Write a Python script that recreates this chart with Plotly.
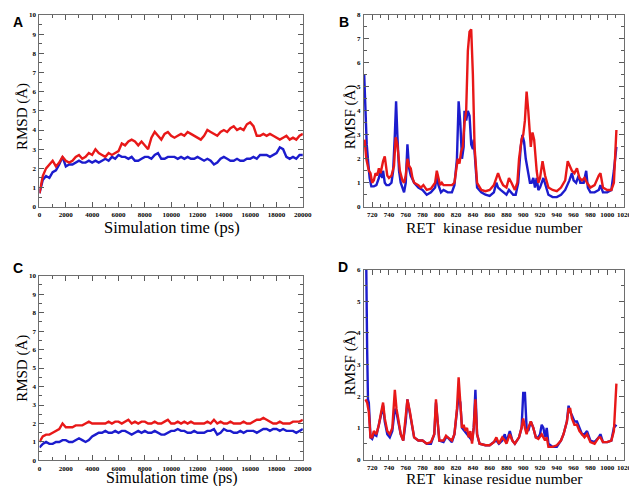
import plotly.graph_objects as go

# ---------------- Data ----------------
time_ps = list(range(0, 20001, 250))

rmsd_A_red = [0.7, 1.6, 2.0, 2.2, 2.4, 2.1, 2.3, 2.6, 2.4, 2.3, 2.4, 2.6, 2.7, 2.5, 2.6, 2.8, 2.7, 3.0, 2.8, 2.7,
              2.6, 2.8, 2.7, 2.8, 2.9, 3.3, 3.2, 3.4, 3.5, 3.4, 3.2, 3.4, 3.2, 3.0, 3.6, 3.9, 3.7, 3.5, 3.8, 3.9,
              3.7, 3.6, 3.7, 3.8, 3.7, 3.9, 3.8, 3.7, 3.6, 3.5, 3.7, 4.0, 3.9, 3.8, 3.7, 3.9, 4.0, 3.9, 4.1, 4.2,
              4.0, 4.1, 4.0, 4.3, 4.4, 4.2, 3.7, 3.7, 3.8, 3.7, 3.8, 3.7, 3.6, 3.5, 3.6, 3.7, 3.5, 3.6, 3.5, 3.7, 3.8]
rmsd_A_blue = [0.7, 1.4, 1.6, 1.5, 1.8, 1.9, 2.2, 2.6, 2.1, 2.2, 2.2, 2.3, 2.4, 2.3, 2.3, 2.4, 2.3, 2.4, 2.3, 2.4,
               2.5, 2.4, 2.6, 2.5, 2.7, 2.6, 2.6, 2.5, 2.6, 2.4, 2.4, 2.5, 2.6, 2.6, 2.5, 2.7, 2.8, 2.5, 2.5, 2.6,
               2.6, 2.6, 2.5, 2.6, 2.5, 2.6, 2.5, 2.5, 2.6, 2.5, 2.4, 2.5, 2.4, 2.2, 2.3, 2.5, 2.6, 2.5, 2.4, 2.4,
               2.5, 2.4, 2.4, 2.5, 2.5, 2.6, 2.5, 2.7, 2.7, 2.7, 2.6, 2.7, 2.8, 3.1, 3.0, 2.6, 2.5, 2.6, 2.5, 2.7, 2.7]

rmsd_C_red = [1.0, 1.3, 1.4, 1.4, 1.5, 1.6, 1.7, 2.0, 1.8, 1.8, 1.8, 1.9, 1.9, 1.9, 2.0, 2.1, 2.0, 2.0, 2.0, 2.0,
              2.0, 2.1, 2.0, 2.1, 2.1, 2.0, 2.1, 2.2, 2.0, 2.1, 2.0, 2.1, 2.1, 2.0, 2.0, 2.1, 2.0, 2.0, 2.1, 2.2,
              2.0, 2.0, 2.1, 2.0, 2.1, 2.0, 2.1, 2.0, 2.0, 2.0, 2.0, 2.1, 2.0, 2.2, 2.0, 2.1, 2.0, 2.0, 2.1, 2.0,
              2.0, 2.0, 2.1, 2.0, 2.0, 2.1, 2.2, 2.2, 2.3, 2.2, 2.1, 2.0, 2.0, 2.1, 2.0, 2.0, 2.0, 2.1, 2.1, 2.1, 2.2]
rmsd_C_blue = [0.7, 0.9, 1.0, 0.9, 0.9, 1.0, 1.0, 1.1, 1.1, 1.0, 1.0, 1.1, 1.2, 1.1, 1.0, 1.1, 1.3, 1.4, 1.5, 1.5,
               1.6, 1.5, 1.5, 1.6, 1.5, 1.6, 1.6, 1.5, 1.4, 1.5, 1.6, 1.5, 1.6, 1.5, 1.5, 1.6, 1.5, 1.4, 1.4, 1.5,
               1.6, 1.6, 1.7, 1.6, 1.6, 1.5, 1.5, 1.6, 1.5, 1.5, 1.5, 1.6, 1.6, 1.7, 1.4, 1.5, 1.7, 1.6, 1.6, 1.5,
               1.5, 1.6, 1.5, 1.6, 1.6, 1.6, 1.5, 1.6, 1.7, 1.7, 1.6, 1.7, 1.7, 1.6, 1.7, 1.6, 1.6, 1.6, 1.5, 1.6, 1.7]

res_B_blue = [710.5, 713.5, 715.4, 717, 719, 722, 725, 728, 730, 732, 733, 735, 737, 740, 743, 745, 747, 748.5, 750,
              752, 754, 757, 758, 760, 762, 764, 766, 770, 775, 780, 785, 790, 795, 797, 799, 802, 805, 810, 815,
              818, 821, 823, 825, 827, 829, 830, 832, 834, 836, 838, 840, 841, 843, 845, 850, 855, 860, 865, 868,
              870, 873, 876, 880, 883, 885, 888, 891, 894, 897, 899, 901, 903, 906, 908, 910, 912, 914, 916, 918,
              920, 924, 927, 930, 935, 940, 945, 950, 955, 958, 960, 963, 966, 968, 972, 975, 977, 980, 985, 990,
              992, 995, 1000, 1005, 1008, 1011]
rmsf_B_blue = [5.5, 2.6, 1.8, 1.2, 0.85, 0.85, 0.9, 1.2, 1.5, 1.2, 1.5, 1.0, 0.9, 0.9, 1.0, 1.5, 3.0, 4.4, 3.0,
               1.5, 1.0, 0.7, 0.6, 1.0, 2.6, 1.6, 1.3, 1.0, 0.8, 0.7, 0.5, 0.6, 0.8, 1.3, 0.9, 0.6, 0.7, 0.6, 0.6,
               0.9, 2.0, 4.4, 3.5, 2.0, 2.5, 4.0, 3.6, 4.0, 3.8, 2.6, 2.4, 2.8, 1.6, 0.8, 0.6, 0.5, 0.45, 0.6, 1.0,
               0.8, 0.7, 0.6, 0.5, 0.7, 0.6, 0.5, 0.5, 1.0, 2.5, 3.0, 2.7, 2.0, 1.4, 1.0, 1.0, 1.2, 0.8, 1.2, 0.7,
               0.8, 1.2, 0.8, 0.5, 0.4, 0.4, 0.5, 0.7, 1.1, 1.4, 1.1, 1.0, 1.3, 1.0, 1.0, 1.5, 0.8, 0.6, 0.6, 0.7,
               0.9, 0.6, 0.6, 0.7, 1.5, 2.5]

res_B_red = [711, 713, 716, 718, 720, 722, 724, 726, 728, 730, 733, 735, 738, 740, 743, 746, 748, 750, 753, 756,
             758, 760, 762, 764, 766, 768, 770, 775, 778, 781, 785, 790, 795, 797, 799, 801, 803, 805, 810, 815,
             818, 820, 822, 824, 826, 828, 830, 832, 834, 836, 838, 840, 842, 845, 850, 855, 860, 865, 868, 870,
             873, 876, 880, 883, 886, 890, 893, 895, 898, 900, 902, 904, 906, 908, 909, 911, 913, 916, 918, 920,
             923, 926, 928, 930, 935, 940, 945, 950, 953, 956, 958, 961, 964, 967, 970, 973, 976, 980, 985, 990,
             992, 995, 1000, 1005, 1008, 1011]
rmsf_B_red = [2.8, 2.0, 1.5, 1.4, 1.0, 1.1, 1.4, 1.3, 1.6, 1.4, 1.9, 2.1, 1.3, 1.2, 1.3, 1.7, 2.9, 2.6, 1.5, 1.1,
              1.0, 1.3, 2.0, 1.7, 1.6, 1.2, 1.0, 0.9, 0.8, 0.9, 0.7, 0.75, 1.0, 1.5, 1.2, 0.9, 1.0, 0.9, 0.9, 0.9,
              1.0, 1.6, 2.0, 1.8, 2.3, 2.5, 3.5, 4.0, 6.5, 7.3, 7.4, 5.5, 2.5, 1.0, 0.7, 0.65, 0.7, 0.9, 1.2, 1.4,
              1.1, 0.9, 0.8, 1.2, 1.0, 0.7, 1.0, 2.0, 2.8, 3.0, 3.6, 4.8, 4.0, 3.0, 2.5, 3.1, 2.8, 1.5, 1.0, 1.2,
              1.9, 1.3, 1.0, 0.8, 0.7, 0.65, 0.8, 1.1, 1.9, 1.7, 1.5, 1.4, 1.6, 1.2, 1.1, 1.2, 1.0, 0.8, 0.9, 1.3,
              1.4, 0.8, 0.7, 0.7, 1.0, 3.2]

res_D_blue = [712, 713, 714, 715, 716, 718, 720, 722, 725, 728, 730, 733, 735, 738, 741, 744, 747, 749, 751, 754,
              757, 760, 762, 765, 767, 770, 775, 780, 785, 790, 794, 796, 798, 800, 805, 808, 810, 815, 818, 821,
              823, 825, 827, 830, 833, 836, 839, 841, 843, 845, 848, 855, 860, 865, 868, 871, 875, 878, 880, 884,
              887, 890, 895, 898, 900, 902, 904, 906, 909, 912, 915, 918, 920, 922, 924, 926, 928, 930, 935, 940,
              945, 948, 952, 954, 956, 958, 961, 964, 967, 970, 973, 976, 980, 985, 990, 992, 995, 1000, 1005, 1008,
              1011]
rmsf_D_blue = [6.0, 6.0, 3.5, 1.9, 1.8, 0.7, 0.65, 0.8, 0.75, 1.1, 1.3, 1.7, 1.2, 0.8, 0.7, 0.9, 1.6, 1.5, 1.2, 0.8,
               0.6, 1.2, 1.9, 1.4, 1.2, 0.7, 0.6, 0.6, 0.5, 0.5, 0.8, 1.8, 1.2, 0.6, 0.55, 0.7, 0.7, 0.55, 0.8, 1.5,
               2.0, 1.8, 1.0, 0.9, 0.8, 0.7, 0.6, 1.0, 2.2, 0.8, 0.5, 0.45, 0.45, 0.55, 0.6, 0.5, 0.6, 0.8, 0.55, 0.9,
               0.6, 0.5, 0.7, 1.0, 2.1, 2.1, 1.0, 0.9, 1.2, 1.0, 0.7, 0.7, 0.8, 1.1, 1.0, 0.7, 1.0, 0.5, 0.4, 0.4,
               0.6, 0.8, 1.2, 1.7, 1.5, 1.4, 1.2, 1.2, 1.0, 0.8, 0.8, 0.9, 0.6, 0.55, 0.7, 0.8, 0.55, 0.55, 0.6, 1.0,
               1.1]

res_D_red = [712, 714, 716, 718, 720, 722, 725, 728, 730, 733, 735, 738, 741, 744, 747, 749, 751, 754, 757, 760,
             762, 765, 767, 770, 775, 780, 785, 790, 794, 796, 798, 800, 805, 808, 810, 815, 818, 821, 823, 825,
             827, 829, 831, 833, 835, 837, 839, 841, 843, 845, 848, 855, 860, 865, 868, 871, 875, 878, 880, 884,
             887, 890, 895, 898, 900, 902, 904, 906, 909, 912, 915, 918, 920, 922, 924, 926, 928, 930, 935, 940,
             945, 948, 952, 954, 956, 958, 961, 964, 967, 970, 973, 976, 980, 985, 990, 992, 995, 1000, 1005, 1008,
             1011]
rmsf_D_red = [1.9, 1.8, 1.5, 0.7, 0.7, 0.9, 0.8, 1.1, 1.4, 1.8, 1.3, 0.9, 0.8, 1.0, 2.2, 1.6, 1.3, 0.8, 0.6, 1.3,
              1.9, 1.5, 1.2, 0.7, 0.6, 0.6, 0.5, 0.55, 0.8, 1.9, 1.2, 0.6, 0.6, 0.75, 0.7, 0.6, 0.8, 1.6, 2.6, 1.8,
              1.0, 1.1, 0.9, 1.0, 0.7, 0.9, 0.5, 1.0, 1.9, 0.8, 0.5, 0.45, 0.45, 0.55, 0.7, 0.5, 0.7, 0.6, 0.5, 0.8,
              0.6, 0.5, 0.7, 1.0, 1.3, 1.0, 0.8, 1.0, 1.2, 1.0, 0.7, 0.65, 0.75, 0.8, 0.7, 0.6, 0.7, 0.4, 0.4, 0.45,
              0.6, 0.8, 1.2, 1.6, 1.6, 1.3, 1.1, 1.1, 0.9, 0.8, 0.7, 0.8, 0.55, 0.5, 0.7, 0.7, 0.55, 0.55, 0.6, 0.9,
              2.4]

panel_letters = ["A", "B", "C", "D"]
x_titles = ["Simulation time (ps)", "RET&nbsp; kinase residue number",
            "Simulation time (ps)", "RET&nbsp; kinase residue number"]
y_titles = ["RMSD (Å)", "RMSF (Å)", "RMSD (Å)", "RMSF (Å)"]

# ---------------- Styling ----------------
RED = "rgb(232,24,24)"
BLUE = "rgb(28,28,205)"
W, H = 637, 486
SERIF = "Liberation Serif"


def px_x(a, b):
    return [a / W, b / W]


def px_y(top, bottom):
    return [1 - bottom / H, 1 - top / H]


fig = go.Figure()

series = [
    ("x", "y", time_ps, rmsd_A_blue, BLUE), ("x", "y", time_ps, rmsd_A_red, RED),
    ("x2", "y2", res_B_blue, rmsf_B_blue, BLUE), ("x2", "y2", res_B_red, rmsf_B_red, RED),
    ("x3", "y3", time_ps, rmsd_C_blue, BLUE), ("x3", "y3", time_ps, rmsd_C_red, RED),
    ("x4", "y4", res_D_blue, rmsf_D_blue, BLUE), ("x4", "y4", res_D_red, rmsf_D_red, RED),
]
for xa, ya, xs, ys, col in series:
    fig.add_trace(go.Scatter(x=xs, y=ys, mode="lines", xaxis=xa, yaxis=ya,
                             line=dict(color=col, width=2.4), showlegend=False, hoverinfo="skip"))

axis_common = dict(showline=True, linecolor="rgb(110,110,110)", linewidth=1, mirror="allticks",
                   ticks="inside", ticklen=5, tickwidth=1, tickcolor="rgb(90,90,90)",
                   showgrid=False, zeroline=False, tickangle=0, ticklabelstandoff=1,
                   ticklabeloverflow="allow",
                   tickfont=dict(family=SERIF, size=7, color="black", weight="bold"))
minor_common = dict(ticks="inside", ticklen=3, tickwidth=1, tickcolor="rgb(90,90,90)", showgrid=False)

layout = dict(width=W, height=H, margin=dict(l=0, r=0, t=0, b=0),
              paper_bgcolor="white", plot_bgcolor="white")

# panel geometry in pixels
geo = {
    "1": (30, 298, 3, 198), "2": (360, 625, 3, 198),
    "3": (30, 298, 268, 456), "4": (360, 625, 262, 455),
}
xcfg = {
    "1": dict(range=[0, 20000], dtick=2000, tickformat="d", minor=dict(dtick=1000, **minor_common)),
    "2": dict(range=[710, 1020.3], tick0=720, dtick=20, tickformat="d", minor=dict(tick0=710, dtick=10, **minor_common)),
    "3": dict(range=[0, 20000], dtick=2000, tickformat="d", minor=dict(dtick=1000, **minor_common)),
    "4": dict(range=[710, 1020.3], tick0=720, dtick=20, tickformat="d", minor=dict(tick0=710, dtick=10, **minor_common)),
}
ycfg = {
    "1": dict(range=[0, 10], dtick=1),
    "2": dict(range=[0, 8], dtick=1),
    "3": dict(range=[0, 10], dtick=1),
    "4": dict(range=[0, 6], dtick=1),
}
for k in ["1", "2", "3", "4"]:
    l, r, t, b = geo[k]
    xk = "xaxis" if k == "1" else f"xaxis{k}"
    yk = "yaxis" if k == "1" else f"yaxis{k}"
    anchor_x = "y" if k == "1" else f"y{k}"
    anchor_y = "x" if k == "1" else f"x{k}"
    layout[xk] = dict(domain=px_x(l, r), anchor=anchor_x, **xcfg[k], **axis_common)
    layout[yk] = dict(domain=px_y(t, b), anchor=anchor_y, **ycfg[k], **axis_common,
                      minor=dict(dtick=0.5, **minor_common))

fig.update_layout(**layout)

# axis titles (pixel positions): (centre x, y, anchor, size)
x_title_pos = [(165, 219, "middle", 16.5), (493, 219, "middle", 15.5),
               (165, 484, "bottom", 16), (493, 484, "bottom", 15.5)]
y_title_pos = [(12, 106), (346, 107), (12, 362), (346, 357)]
for txt, (cx, cy, ya, fs) in zip(x_titles, x_title_pos):
    fig.add_annotation(text=txt, x=cx / W, y=1 - cy / H, xref="paper", yref="paper", showarrow=False,
                       xanchor="center", yanchor=ya, borderpad=0,
                       font=dict(family=SERIF, size=fs, color="black"))
for txt, (cx, cy) in zip(y_titles, y_title_pos):
    fig.add_annotation(text=txt, x=cx / W, y=1 - cy / H, xref="paper", yref="paper", showarrow=False,
                       xanchor="center", yanchor="middle", textangle=-90, borderpad=0,
                       font=dict(family=SERIF, size=15, color="black"))

letter_pos = [(8, 10), (340, 10), (8, 260), (339, 259)]
for letter, (lx, ly) in zip(panel_letters, letter_pos):
    fig.add_annotation(text=f"<b>{letter}</b>", x=lx / W, y=1 - ly / H, xref="paper", yref="paper",
                       showarrow=False, xanchor="center", yanchor="middle",
                       font=dict(family="Liberation Sans", size=14, color="black"))

fig.write_html("out.html")
